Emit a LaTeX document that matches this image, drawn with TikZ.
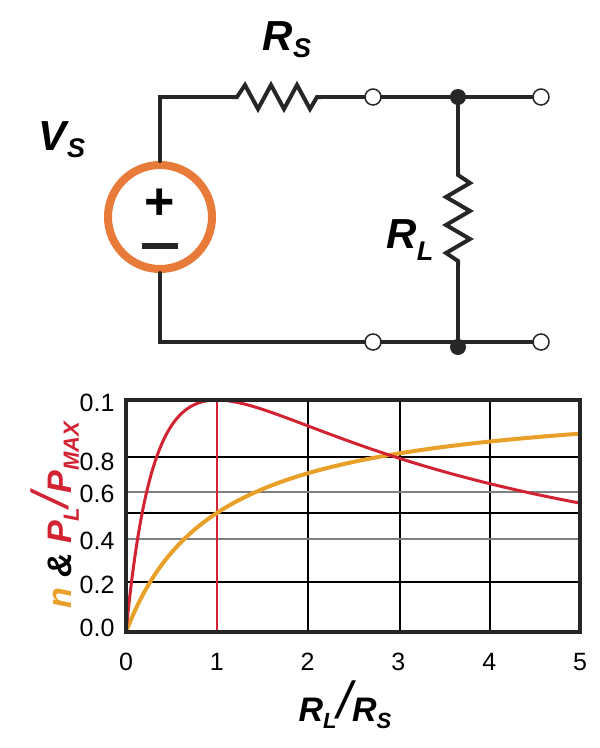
\documentclass[tikz,border=0pt]{standalone}
\usepackage{fontspec}
\setmainfont{Liberation Sans}
\definecolor{orng}{RGB}{232,160,40}
\definecolor{rd}{RGB}{210,35,50}
\definecolor{srcc}{RGB}{232,122,58}
\begin{document}
\begin{tikzpicture}[x=1pt,y=-1pt,
  wire/.style={line width=4pt,line cap=round,black!85},
  opn/.style={circle,draw=black!85,line width=1.5pt,fill=white,minimum size=16pt,inner sep=0pt},
  dotn/.style={circle,fill=black!85,minimum size=16pt,inner sep=0pt},
  lbl/.style={font=\bfseries\itshape\fontsize{42}{42}\selectfont},
  tick/.style={font=\fontsize{25}{25}\selectfont},
  grd/.style={black,line width=1.2pt},
  grg/.style={gray,line width=1.2pt}]
\useasboundingbox (0,0) rectangle (600,748);
% circuit
\coordinate (tl) at (160,97);
\coordinate (bl) at (160,342);
\coordinate (r1a) at (232,97);
\coordinate (r1b) at (322,97);
\node[opn] (o1) at (373,97) {};
\node[dotn] (d1) at (458,97) {};
\node[opn] (o2) at (541,97) {};
\node[opn] (o3) at (373,342) {};
\node[dotn] (d2) at (458,347) {};
\node[opn] (o4) at (541,342) {};
\coordinate (r2a) at (458,170);
\coordinate (r2b) at (458,266);
\node[circle,draw=srcc,line width=8pt,minimum size=104pt,inner sep=0pt] (src) at (160,217) {};
\draw[wire] (src.north) -- (tl) -- (r1a);
\draw[wire] (r1a) -- ++(5,0) -- ++(8,-12) -- ++(13,24) -- ++(13,-24) -- ++(13,24) -- ++(13,-24) -- ++(13,24) -- ++(7,-12) -- (r1b);
\draw[wire] (r1b) -- (o1.west);
\draw[wire] (o1.east) -- (d1) -- (o2.west);
\draw[wire] (d1) -- (r2a);
\draw[wire] (r2a) -- ++(0,5) -- ++(12,8) -- ++(-24,14) -- ++(24,14) -- ++(-24,14) -- ++(24,14) -- ++(-24,14) -- ++(12,8) -- (r2b);
\draw[wire] (r2b) -- (d2);
\draw[wire] (src.south) -- (bl) -- (o3.west);
\draw[wire] (o3.east) -- (458,342) -- (o4.west);
\node[font=\bfseries\fontsize{52}{52}\selectfont] (plus) at (160,204) {+};
\draw[line width=6pt,black!85] (142,246) -- (178,246);
\node[lbl] (rs) at (287,40) {R\raisebox{-7pt}{\fontsize{27}{27}\selectfont S}};
\node[lbl] (vs) at (62,140) {V\raisebox{-7pt}{\fontsize{27}{27}\selectfont S}};
\node[lbl] (rl) at (410,240) {R\raisebox{-12pt}{\fontsize{27}{27}\selectfont L}};
% plot
\foreach \x in {217,308,400,490} \draw[grd] (\x,400) -- (\x,632);
\draw[grd] (126,457) -- (580,457);
\draw[grg] (126,492) -- (580,492);
\draw[grd] (126,513) -- (580,513);
\draw[grg] (126,539) -- (580,539);
\draw[grd] (126,582) -- (580,582);
\draw[rd,line width=1.2pt] (217,400) -- (217,632);
\draw[line width=4pt,color=orng,domain=0:5,samples=120,smooth]
  plot ({126+90.8*\x},{632-238*\x/(1+\x)});
\draw[line width=3pt,color=rd,domain=0:5,samples=160,smooth]
  plot ({126+90.8*\x},{632-232*4*\x/((1+\x)*(1+\x))});
\draw[line width=4pt,black!85] (126,400) rectangle (580,632);
\foreach \v/\y in {0.1/403,0.8/462,0.6/494,0.4/541,0.2/585,0.0/628}
  \node[tick,anchor=east] at (118,\y) {\v};
\foreach \n in {0,...,5}
  \node[tick] at (126+90.8*\n,662) {\n};
\node[font=\bfseries\itshape\fontsize{34}{34}\selectfont] (xl) at (345,705)
  {R\raisebox{-7pt}{\fontsize{22}{22}\selectfont L}\kern1pt\raisebox{3pt}{\fontsize{52}{52}\selectfont\mdseries /}R\raisebox{-7pt}{\fontsize{22}{22}\selectfont S}};
\node[rotate=90,font=\bfseries\itshape\fontsize{34}{34}\selectfont] (yl) at (55,515)
  {\textcolor{orng}{n} \textcolor{black}{\&} \textcolor{rd}{P\raisebox{-7pt}{\fontsize{22}{22}\selectfont L}\raisebox{3pt}{\fontsize{52}{52}\selectfont\mdseries /}P\raisebox{-7pt}{\fontsize{22}{22}\selectfont MAX}}};
\end{tikzpicture}
\end{document}
